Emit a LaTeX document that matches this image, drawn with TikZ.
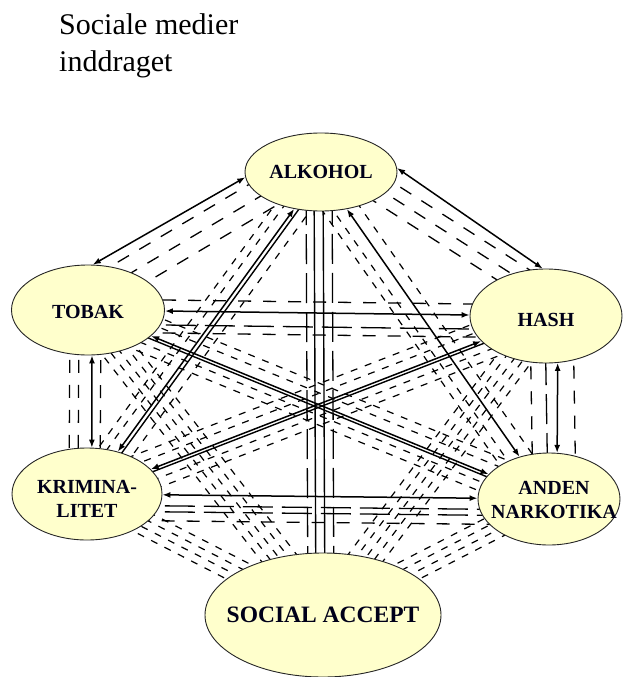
\documentclass[tikz,border=0pt]{standalone}
\usepackage{fontspec}
\setmainfont{Liberation Serif}
\usetikzlibrary{shapes.geometric,calc,arrows.meta}
\pgfdeclarelayer{bg}
\pgfsetlayers{bg,main}
\definecolor{ellfill}{RGB}{255,255,204}
\newcommand\bund[4]{\foreach \ofs in {#4}{\draw[#1] ($(#2)!\ofs pt!90:(#3)$) -- ($(#3)!\ofs pt!-90:(#2)$);}}
\begin{document}
\begin{tikzpicture}[x=1pt,y=-1pt,
  ell/.style={ellipse,draw=black!85,line width=0.9pt,fill=ellfill,inner sep=0pt},
  lbl/.style={font=\fontsize{20}{24}\selectfont\bfseries,align=center,inner sep=0pt,text=black!90!blue},
  arr/.style={line width=1.5pt,{Latex[length=8pt,width=6pt]}-{Latex[length=8pt,width=6pt]}},
  sol/.style={line width=1.4pt},
  dA/.style={line width=1.3pt,dash pattern=on 13pt off 12pt},
  dB/.style={line width=1.3pt,dash pattern=on 30pt off 9pt},
  dC/.style={line width=1.2pt,dash pattern=on 7pt off 8pt}]
\useasboundingbox (0,0) rectangle (626,677);
\node (t1) [anchor=base west,inner sep=0pt,font=\fontsize{30}{36}\selectfont] at (59,35) {Sociale medier};
\node (t2) [anchor=base west,inner sep=0pt,font=\fontsize{30}{36}\selectfont] at (59,71) {inddraget};
\node (al) [ell,minimum width=152pt,minimum height=78pt,label={[lbl]center:ALKOHOL}] at (321,172) {};
\node (to) [ell,minimum width=153pt,minimum height=90pt,label={[lbl,yshift=-2pt]center:TOBAK}] at (88,310) {};
\node (ha) [ell,minimum width=152pt,minimum height=94pt,label={[lbl,yshift=-4pt]center:HASH}] at (546,316) {};
\node (kr) [ell,minimum width=150pt,minimum height=92pt,label={[lbl,yshift=-5pt]center:KRIMINA-\\LITET}] at (87,494) {};
\node (an) [ell,minimum width=142pt,minimum height=92pt,label={[lbl,xshift=5pt,yshift=-1pt]center:ANDEN\\NARKOTIKA}] at (549,499) {};
\node (sa) [ell,minimum width=236pt,minimum height=124pt,label={[lbl,font=\fontsize{23.5}{28}\selectfont\bfseries]center:SOCIAL ACCEPT}] at (323,615) {};
\begin{pgfonlayer}{bg}
\bund{dA}{to}{al}{26,10,-6}
\bund{dA}{al}{ha}{30,17,4}
\bund{dA}{to}{ha}{11}
\bund{dB}{to}{ha}{-14}
\bund{dA}{to}{ha}{-22}
\bund{dB}{kr}{an}{-11,-17}
\bund{dA}{kr}{an}{-26}
\bund{dA}{to}{kr}{-18,-9,13}
\bund{dA}{ha}{an}{-16,27}
\bund{dB}{ha}{an}{-1}
\bund{sol}{to}{an}{-3}
\bund{dC}{to}{an}{20,11,-10,-19}
\bund{sol}{ha}{kr}{3}
\bund{dC}{ha}{kr}{20,11,-10,-19}
\bund{sol}{al}{kr}{4}
\bund{dC}{al}{kr}{14,-10,-18}
\bund{dC}{al}{an}{-12,-21,12}
\bund{dB}{sa}{al}{15,-11}
\bund{sol}{sa}{al}{7,-2}
\bund{dC}{sa}{to}{-16,-8,0,8,16}
\bund{dC}{sa}{kr}{-12,-4,4,12}
\bund{dC}{sa}{ha}{-16,-8,0,8,16}
\bund{dC}{sa}{an}{-12,-4,4,12}
\end{pgfonlayer}
\draw[arr] (to.84) -- (al.184);
\draw[arr] (al.3) -- (ha.94);
\draw[arr] (to) -- (ha);
\draw[arr] (kr) -- (an);
\draw[arr] (to.-85) -- (kr.84);
\draw[arr] (ha.-76) -- (an.80);
\draw[arr] (to) -- (an);
\draw[arr] (ha) -- (kr);
\draw[arr] (al) -- (kr);
\draw[arr] (al) -- (an);
\end{tikzpicture}
\end{document}
